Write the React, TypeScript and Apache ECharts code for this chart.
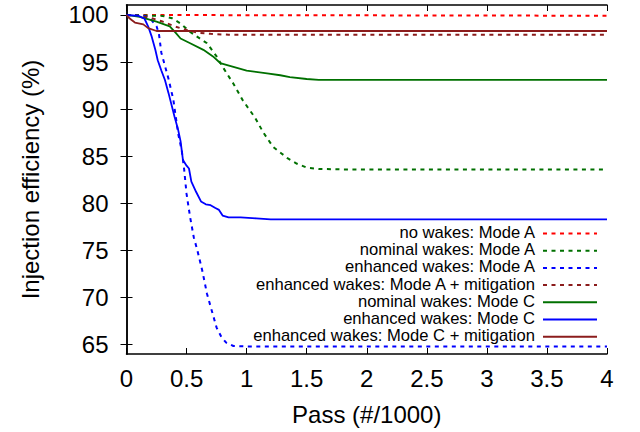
import React, { useEffect, useRef } from "react";
import * as echarts from "echarts";

const FONT = "'Liberation Sans', Arial, Helvetica, sans-serif";

const seriesNames = [
  "no wakes: Mode A",
  "nominal wakes: Mode A",
  "enhanced wakes: Mode A",
  "enhanced wakes: Mode A + mitigation",
  "nominal wakes: Mode C",
  "enhanced wakes: Mode C",
  "enhanced wakes: Mode C + mitigation",
];
const seriesColors = ["#ff0000", "#007000", "#0000ff", "#8b1c1c", "#007000", "#0000ff", "#8b1c1c"];
const seriesDashed = [true, true, true, true, false, false, false];

const noWakesA = [[0, 100], [4, 99.92]];
const nominalA = [
  [0, 100], [0.3, 99.9], [0.38, 99.65], [0.45, 99.1], [0.53, 98.2], [0.6, 97.6], [0.67, 97.0],
  [0.75, 95.6], [0.81, 94.3], [0.89, 92.7], [0.97, 90.9], [1.07, 89.1], [1.14, 87.5], [1.22, 86.0],
  [1.29, 85.3], [1.34, 84.8], [1.42, 84.2], [1.5, 83.8], [1.6, 83.65], [1.8, 83.6], [4, 83.6],
];
const enhancedA = [
  [0, 100], [0.15, 99.9], [0.2, 99.6], [0.25, 98.8], [0.27, 98.0], [0.29, 96.0], [0.32, 94.6],
  [0.35, 93.2], [0.39, 91.0], [0.41, 89.2], [0.43, 87.4], [0.46, 85.6], [0.48, 83.6], [0.5, 81.0],
  [0.53, 78.5], [0.56, 76.4], [0.59, 75.0], [0.63, 72.9], [0.67, 70.4], [0.71, 68.6], [0.75, 66.8],
  [0.79, 65.8], [0.83, 65.2], [0.89, 64.85], [1.0, 64.8], [4, 64.8],
];
const enhancedAMit = [
  [0, 100], [0.1, 99.9], [0.2, 99.7], [0.3, 99.3], [0.4, 98.8], [0.5, 98.4], [0.6, 98.1],
  [0.7, 98.0], [0.85, 97.9], [4, 97.9],
];
const nominalC = [
  [0, 100], [0.11, 99.8], [0.25, 99.3], [0.36, 98.8], [0.41, 98.1], [0.45, 97.5], [0.53, 97.0],
  [0.64, 96.3], [0.72, 95.6], [0.78, 94.9], [0.89, 94.5], [1.0, 94.1], [1.17, 93.8], [1.28, 93.6],
  [1.36, 93.4], [1.5, 93.2], [1.6, 93.1], [4, 93.1],
];
const enhancedC = [
  [0, 100], [0.1, 99.9], [0.15, 99.6], [0.18, 98.8], [0.21, 97.7], [0.24, 96.3], [0.26, 95.2],
  [0.29, 94.1], [0.32, 93.1], [0.35, 91.7], [0.38, 90.2], [0.4, 89.2], [0.43, 87.8], [0.45, 86.6],
  [0.47, 84.6], [0.5, 84.0], [0.52, 83.7], [0.54, 82.3], [0.58, 81.2], [0.62, 80.2], [0.66, 79.9],
  [0.7, 79.8], [0.74, 79.5], [0.77, 79.3], [0.8, 78.7], [0.85, 78.5], [0.95, 78.5], [1.08, 78.4],
  [1.2, 78.3], [4, 78.3],
];
const enhancedCMit = [
  [0, 100], [0.02, 99.7], [0.04, 99.5], [0.07, 99.2], [0.14, 99.0], [0.18, 98.6], [0.25, 98.3], [4, 98.3],
];
const seriesData = [noWakesA, nominalA, enhancedA, enhancedAMit, nominalC, enhancedC, enhancedCMit];

const yTicks = [65, 70, 75, 80, 85, 90, 95, 100];

export default function App() {
  const ref = useRef<HTMLDivElement>(null);
  useEffect(() => {
    document.body.style.margin = "0";
    const chart = echarts.init(ref.current!, null, { renderer: "svg" });
    const axisLine = { show: true, lineStyle: { color: "#000", width: 1.5 } };
    const tick = { show: true, inside: true, length: 6, lineStyle: { color: "#000", width: 1 } };
    const legendTop = 232.5;
    const legendStep = 17.2;
    const graphic: any[] = [];
    seriesNames.forEach((name, i) => {
      const y = legendTop + i * legendStep;
      graphic.push({
        type: "text",
        x: 535,
        y,
        style: {
          text: name, align: "right", verticalAlign: "middle", fontSize: 16.6,
          fontFamily: FONT, fill: "#000",
        },
        z: 100,
      });
      graphic.push({
        type: "line",
        shape: { x1: 543, y1: y + 1, x2: 597, y2: y + 1 },
        style: { stroke: seriesColors[i], lineWidth: 2, lineDash: seriesDashed[i] ? [4, 4.5] : null },
        z: 100,
      });
    });
    chart.setOption({
      animation: false,
      backgroundColor: "#fff",
      grid: { left: 126.5, right: 33, top: 5, bottom: 78, containLabel: false },
      xAxis: [
        {
          type: "value", min: 0, max: 4, interval: 0.5, position: "bottom",
          axisLine, axisTick: tick, splitLine: { show: false },
          axisLabel: { color: "#000", fontSize: 24, fontFamily: FONT, margin: 12 },
          name: "Pass (#/1000)", nameLocation: "middle", nameGap: 48,
          nameTextStyle: { color: "#000", fontSize: 24, fontFamily: FONT },
        },
        {
          type: "value", min: 0, max: 4, interval: 0.5, position: "top",
          axisLine, axisTick: tick, splitLine: { show: false }, axisLabel: { show: false },
        },
      ],
      yAxis: [
        {
          type: "value", min: 64, max: 101.06, position: "left",
          axisLine, axisTick: { ...tick, customValues: yTicks }, splitLine: { show: false },
          axisLabel: { color: "#000", fontSize: 24, fontFamily: FONT, margin: 18, customValues: yTicks },
          name: "Injection efficiency (%)", nameLocation: "middle", nameGap: 84, nameRotate: 90,
          nameTextStyle: { color: "#000", fontSize: 24, fontFamily: FONT },
        },
        {
          type: "value", min: 64, max: 101.06, position: "right",
          axisLine, axisTick: { ...tick, customValues: yTicks }, splitLine: { show: false },
          axisLabel: { show: false },
        },
      ],
      series: seriesNames.map((name, i) => ({
        name,
        type: "line",
        xAxisIndex: 0,
        yAxisIndex: 0,
        data: seriesData[i],
        showSymbol: false,
        symbol: "none",
        lineStyle: { color: seriesColors[i], width: seriesDashed[i] ? 2 : 1.8, type: seriesDashed[i] ? [4, 4.5] : "solid" },
        itemStyle: { color: seriesColors[i] },
        z: 2 + i,
      })),
      graphic,
    });
    return () => chart.dispose();
  }, []);
  return <div ref={ref} style={{ width: 640, height: 432 }} />;
}
